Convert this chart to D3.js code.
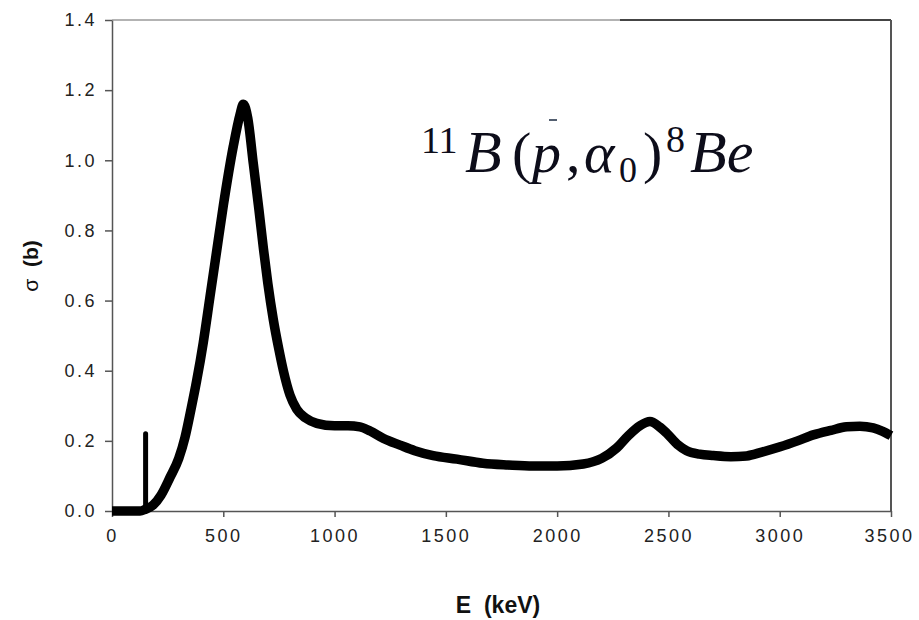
<!DOCTYPE html>
<html>
<head>
<meta charset="utf-8">
<script src="https://d3js.org/d3.v7.min.js"></script>
<style>
  body { margin: 0; background: #fff; }
  .tickText { font-family: "Liberation Sans", Arial, sans-serif; font-size: 18px; fill: #222; letter-spacing: 2.5px; }
</style>
</head>
<body>
<div id="chart"></div>
<script>
//data (E in keV, sigma in barn)
const energy = [0, 60, 126, 150, 185, 220, 260, 300, 328, 355, 380, 410, 440, 470, 500, 545, 575, 590, 610, 635,
  660, 680, 700, 725, 750, 770, 800, 830, 870, 920, 1000, 1060, 1114, 1160, 1220, 1294, 1360, 1443, 1550, 1667,
  1780, 1892, 2000, 2117, 2200, 2268, 2320, 2372, 2417, 2460, 2492, 2540, 2582, 2640, 2702, 2780, 2851, 2920,
  3002, 3080, 3151, 3230, 3301, 3360, 3420, 3460, 3500];
const sigma = [0, 0, 0, 0.005, 0.017, 0.045, 0.095, 0.15, 0.21, 0.29, 0.37, 0.48, 0.61, 0.74, 0.87, 1.04, 1.13, 1.16, 1.12, 0.99,
  0.86, 0.75, 0.65, 0.545, 0.46, 0.40, 0.33, 0.29, 0.265, 0.25, 0.243, 0.243, 0.24, 0.228, 0.207, 0.188, 0.172, 0.158, 0.148, 0.136,
  0.131, 0.128, 0.128, 0.134, 0.15, 0.18, 0.215, 0.243, 0.255, 0.24, 0.222, 0.19, 0.172, 0.162, 0.158, 0.155, 0.157, 0.168,
  0.183, 0.2, 0.217, 0.23, 0.24, 0.242, 0.237, 0.228, 0.215];

//the thin narrow resonance spike
const spikeEnergy = [151, 151];
const spikeSigma = [0, 0.22];

const xTicks = [0, 500, 1000, 1500, 2000, 2500, 3000, 3500];
const yTicks = [0, 0.2, 0.4, 0.6, 0.8, 1.0, 1.2, 1.4];

//svg dimensions
const svgwidth = 919;
const svgheight = 620;

const margin = { top: 20, bottom: 109, left: 112, right: 28 };

const width = svgwidth - margin.left - margin.right;
const height = svgheight - margin.top - margin.bottom;

const svg = d3.select('#chart').append('svg')
  .attr('width', svgwidth).attr('height', svgheight);

const chartGroup = svg.append('g')
  .attr('transform', `translate(${margin.left},${margin.top})`);

//scales
const xScale = d3.scaleLinear().domain([0, 3500]).range([0, width]);
const yScale = d3.scaleLinear().domain([0, 1.4]).range([height, 0]);

//frame: top is light gray on the left part, dark on the right
chartGroup.append('line')
  .attr('x1', 0).attr('x2', 508).attr('y1', 0).attr('y2', 0)
  .attr('stroke', '#9a9a9a').attr('stroke-width', 1.5);
chartGroup.append('line')
  .attr('x1', 508).attr('x2', width).attr('y1', 0).attr('y2', 0)
  .attr('stroke', '#444').attr('stroke-width', 2);
chartGroup.append('line')
  .attr('x1', width).attr('x2', width).attr('y1', 0).attr('y2', height)
  .attr('stroke', '#555').attr('stroke-width', 2);

//axes
const xAxis = d3.axisBottom(xScale).tickValues(xTicks).tickSize(6).tickSizeOuter(0).tickPadding(12)
  .tickFormat(d3.format('d'));
const yAxis = d3.axisLeft(yScale).tickValues(yTicks).tickSize(7).tickSizeOuter(0).tickPadding(8)
  .tickFormat(d3.format('.1f'));

const xg = chartGroup.append('g')
  .attr('transform', `translate(0, ${height})`).call(xAxis);
const yg = chartGroup.append('g').call(yAxis);

[xg, yg].forEach(g => {
  g.select('.domain').attr('stroke', '#555').attr('stroke-width', 1.5);
  g.selectAll('.tick line').attr('stroke', '#555').attr('stroke-width', 1.5);
  g.selectAll('.tick text').attr('class', 'tickText').attr('fill', '#222');
});
//last x label sits right at the edge, pull it in a little
xg.selectAll('.tick text').filter(d => d === 3500).attr('dx', '-2');

//curve
const line = d3.line()
  .x(d => xScale(d[0]))
  .y(d => yScale(d[1]))
  .curve(d3.curveMonotoneX);

chartGroup.append('path')
  .datum(energy.map((e, i) => [e, sigma[i]]))
  .attr('d', line)
  .attr('fill', 'none')
  .attr('stroke', '#000')
  .attr('stroke-width', 9.5)
  .attr('stroke-linejoin', 'round');

chartGroup.append('path')
  .datum(spikeEnergy.map((e, i) => [e, spikeSigma[i]]))
  .attr('d', d3.line().x(d => xScale(d[0])).y(d => yScale(d[1])))
  .attr('fill', 'none')
  .attr('stroke', '#000')
  .attr('stroke-width', 5)
  .attr('stroke-linecap', 'round');

//axis titles
svg.append('text')
  .attr('x', 498).attr('y', 613)
  .attr('text-anchor', 'middle')
  .style('font-family', '"Liberation Sans", Arial, sans-serif')
  .style('font-size', '23px').style('font-weight', 'bold')
  .style('white-space', 'pre')
  .attr('fill', '#111')
  .text('E  (keV)');

const yTitle = svg.append('text')
  .attr('transform', 'translate(38, 266) rotate(-90)')
  .attr('text-anchor', 'middle')
  .style('font-family', '"Liberation Sans", Arial, sans-serif')
  .style('font-size', '21px')
  .style('white-space', 'pre')
  .attr('fill', '#111');
yTitle.append('tspan').text('σ  ');
yTitle.append('tspan').style('font-weight', 'bold').text('(b)');

//reaction label
const serif = '"Liberation Serif", "DejaVu Serif", serif';
const label = svg.append('text')
  .style('font-family', serif)
  .attr('fill', '#0d0d1a');
label.append('tspan').attr('x', 421).attr('y', 153).style('font-size', '38px').text('11');
label.append('tspan').attr('x', 465).attr('y', 172).style('font-size', '60px').style('font-style', 'italic').text('B');
label.append('tspan').attr('x', 512).attr('y', 172).style('font-size', '58px').text('(');
label.append('tspan').attr('x', 532).attr('y', 172).style('font-size', '58px').style('font-style', 'italic').text('p');
label.append('tspan').attr('x', 566).attr('y', 172).style('font-size', '58px').text(',');
label.append('tspan').attr('x', 584).attr('y', 172).style('font-size', '58px').style('font-style', 'italic').text('α');
label.append('tspan').attr('x', 619).attr('y', 182).style('font-size', '36px').text('0');
label.append('tspan').attr('x', 643).attr('y', 172).style('font-size', '58px').text(')');
label.append('tspan').attr('x', 666).attr('y', 152).style('font-size', '38px').text('8');
label.append('tspan').attr('x', 690).attr('y', 172).style('font-size', '60px').style('font-style', 'italic').text('Be');
svg.append('line')
  .attr('x1', 549).attr('x2', 557).attr('y1', 120).attr('y2', 120)
  .attr('stroke', '#1a2a40').attr('stroke-width', 1.5);
</script>
</body>
</html>
